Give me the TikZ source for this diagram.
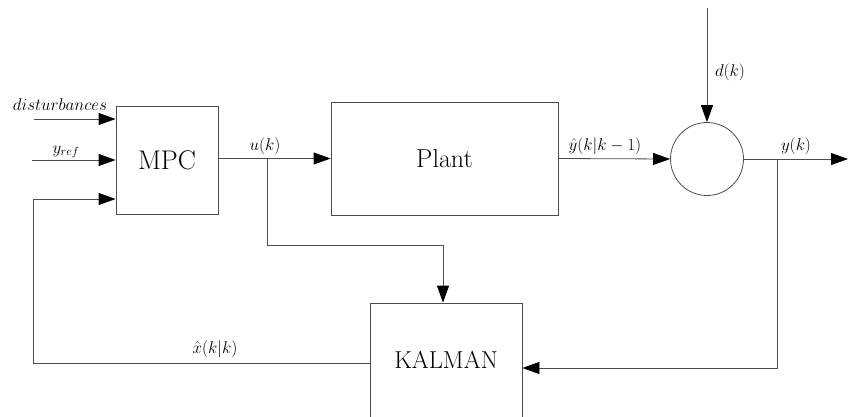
\RequirePackage{fix-cm}
\documentclass[tikz,border=0pt]{standalone}
\usetikzlibrary{arrows.meta}
\tikzset{
  blk/.style={draw=black!70, line width=0.8pt, rectangle, inner sep=0pt},
  sumc/.style={draw=black!70, line width=0.8pt, circle, inner sep=0pt, minimum size=73pt},
  sig/.style={draw=black!70, line width=0.8pt},
  arr/.style={sig, -{Triangle[length=17pt,width=12pt,fill=black,color=black]}},
  lbl/.style={inner sep=0pt, font=\fontsize{17}{20}\selectfont},
}
\begin{document}
\begin{tikzpicture}[x=1pt,y=-1pt]
\useasboundingbox (0,0) rectangle (848,416);
% blocks
\node[blk, minimum width=102pt, minimum height=108pt, font=\fontsize{27}{30}\selectfont] (mpc) at (167,160) {MPC};
\node[blk, minimum width=227pt, minimum height=113pt, font=\fontsize{26}{30}\selectfont] (plant) at (444.5,158.5) {Plant};
\node[sumc] (sum) at (707,159) {};
\node[blk, minimum width=152pt, minimum height=114pt, font=\fontsize{24.5}{28}\selectfont] (kal) at (446,360) {KALMAN};
% coordinates
\coordinate (dist) at (34,119);
\coordinate (yref) at (32,160);
\coordinate (fbcorner) at (33,363);
\coordinate (fbup) at (33,199);
\coordinate (ubr) at (267,158.5);
\coordinate (ubrlow) at (267,245);
\coordinate (kaltop) at (443,245);
\coordinate (dtop) at (707,8);
\coordinate (yout) at (848,159);
\coordinate (ybr) at (777,159);
\coordinate (ybrlow) at (777,368);
% connectors
\draw[arr] (dist) -- (dist -| mpc.west);
\draw[arr] (yref) -- (yref -| mpc.west);
\draw[arr] (kal.west |- fbcorner) -- (fbcorner) -- (fbup) -- (fbup -| mpc.west);
\draw[arr] (mpc.east |- plant.west) -- (plant.west);
\draw[arr] (ubr) -- (ubrlow) -- (kaltop) -- (kaltop |- kal.north);
\draw[arr] (plant.east) -- (sum.west);
\draw[arr] (dtop) -- (sum.north);
\draw[arr] (sum.east) -- (yout);
\draw[arr] (ybr) -- (ybrlow) -- (ybrlow -| kal.east);
% labels
\node[lbl] (ldist) at (60,105) {$disturbances$};
\node[lbl] (lyref) at (66,152) {$y_{ref}$};
\node[lbl] (lx) at (215,349) {$\hat{x}(k|k)$};
\node[lbl] (lu) at (265,146) {$u(k)$};
\node[lbl] (ly) at (605,146) {$\hat{y}(k|k-1)$};
\node[lbl] (ld) at (730,72) {$d(k)$};
\node[lbl] (lyk) at (796,146) {$y(k)$};
\end{tikzpicture}
\end{document}
